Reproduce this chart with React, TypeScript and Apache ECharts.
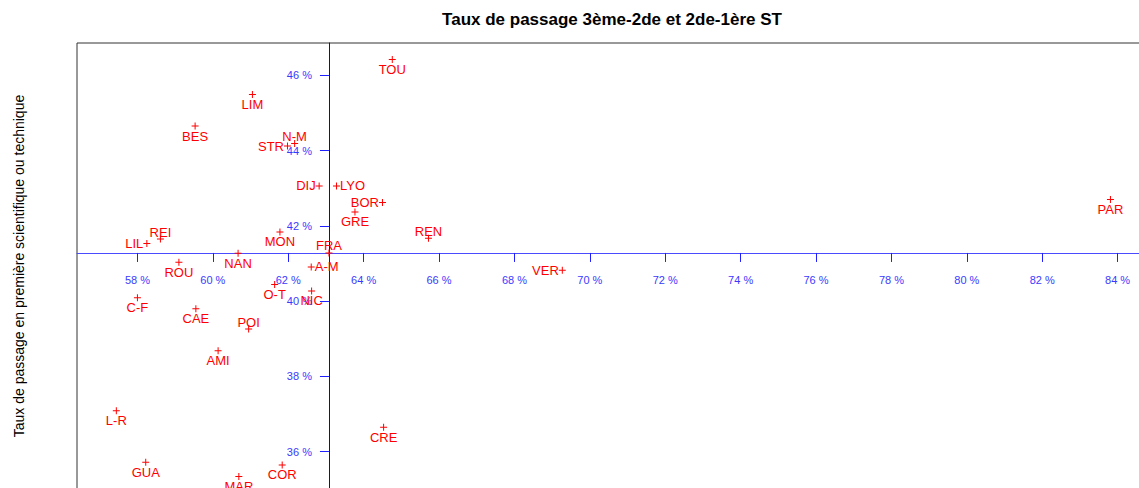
import { useEffect, useRef } from "react";
import * as echarts from "echarts";

const ACADEMIES = ["LIM", "BES", "STR", "N-M", "DIJ", "LYO", "BOR", "GRE", "TOU", "REI", "LIL", "MON", "FRA", "NAN", "ROU", "A-M", "O-T", "NIC", "C-F", "CAE", "POI", "AMI", "L-R", "GUA", "MAR", "COR", "CRE", "REN", "VER", "PAR"];
// Taux de passage 3ème-2de (%)
const TAUX_3EME_2DE = [61.05, 59.53, 61.98, 62.17, 62.82, 63.28, 64.5, 63.77, 64.76, 58.61, 58.25, 61.78, 63.08, 60.67, 59.1, 62.61, 61.64, 62.62, 58.0, 59.55, 60.95, 60.14, 57.44, 58.22, 60.69, 61.84, 64.53, 65.72, 69.27, 83.81];
// Taux de passage 2de-1ère S ou T (%)
const TAUX_2DE_1ERE = [45.49, 44.65, 44.12, 44.19, 43.06, 43.06, 42.62, 42.37, 46.42, 41.65, 41.53, 41.84, 41.28, 41.27, 41.03, 40.91, 40.44, 40.27, 40.09, 39.8, 39.26, 38.68, 37.09, 35.72, 35.34, 35.65, 36.65, 41.67, 40.82, 42.7];
const X_TICKS = [58, 60, 62, 64, 66, 68, 70, 72, 74, 76, 78, 80, 82, 84];
const Y_TICKS = [36, 38, 40, 42, 44, 46];
const X_RANGE = [56.397, 84.7];
const Y_RANGE = [34.904, 46.857];
const REFERENCE = "FRA";

const LABEL_SIDE: Record<string, string> = {
  STR: "left", "N-M": "top", DIJ: "left", LYO: "right", BOR: "left",
  REI: "top", LIL: "left", FRA: "top", "A-M": "right", POI: "top",
  REN: "top", VER: "left",
};

const FONT = "'Liberation Sans', Arial, Helvetica, sans-serif";

export default function App() {
  const ref = useRef<HTMLDivElement>(null);
  useEffect(() => {
    if (!ref.current) return;
    const chart = echarts.init(ref.current, null, { renderer: "svg" });
    const refIdx = ACADEMIES.indexOf(REFERENCE);
    const crossX = TAUX_3EME_2DE[refIdx];
    const crossY = TAUX_2DE_1ERE[refIdx];

    const data = ACADEMIES.map((name, i) => {
      const side = LABEL_SIDE[name] || "bottom";
      return {
        name,
        value: [TAUX_3EME_2DE[i], TAUX_2DE_1ERE[i]],
        label: { position: side, distance: side === "top" ? -3 : side === "bottom" ? 0 : 0 },
      };
    });

    const option: any = {
      animation: false,
      graphic: [
        {
          type: "text",
          x: 612,
          y: 19,
          style: {
            text: "Taux de passage 3ème-2de et 2de-1ère ST",
            font: `bold 17px ${FONT}`,
            fill: "#000",
            textAlign: "center",
            textVerticalAlign: "middle",
          },
        },
        {
          type: "text",
          x: 19,
          y: 266,
          rotation: Math.PI / 2,
          style: {
            text: "Taux de passage en première scientifique ou technique",
            font: `14px ${FONT}`,
            fill: "#000",
            textAlign: "center",
            textVerticalAlign: "middle",
          },
        },
      ],
      grid: {
        left: 77, top: 43, right: -5, bottom: -5,
        containLabel: false,
        outerBoundsMode: "none",
        show: true, borderColor: "#333", borderWidth: 1, backgroundColor: "transparent",
      },
      xAxis: {
        type: "value",
        min: X_RANGE[0],
        max: X_RANGE[1],
        position: "bottom",
        offset: 0,
        splitLine: { show: false },
        axisLine: { show: true, lineStyle: { color: "#4a4aff", width: 1 } },
        axisTick: { show: true, length: 9, customValues: X_TICKS, lineStyle: { color: "#2020ff" } },
        axisLabel: {
          customValues: X_TICKS,
          formatter: (v: number) => `${v} %`,
          color: "#3a3aff",
          fontSize: 11,
          fontFamily: FONT,
          margin: 22,
        },
      },
      yAxis: {
        type: "value",
        min: Y_RANGE[0],
        max: Y_RANGE[1],
        position: "left",
        offset: 0,
        splitLine: { show: false },
        axisLine: { show: true, lineStyle: { color: "#0000ff", width: 1 } },
        axisTick: { show: true, length: 9, customValues: Y_TICKS, lineStyle: { color: "#2020ff" } },
        axisLabel: {
          customValues: Y_TICKS,
          formatter: (v: number) => `${v} %`,
          color: "#3a3aff",
          fontSize: 11,
          fontFamily: FONT,
          margin: 17,
          padding: [5, 0, 0, 0],
        },
      },
      series: [
        {
          type: "scatter",
          data,
          symbol: "path://M3,0h1v3h3v1h-3v3h-1v-3h-3v-1h3z",
          symbolSize: 7,
          itemStyle: { color: "#ff0000", opacity: 1, borderWidth: 0 },
          label: {
            show: true,
            formatter: "{b}",
            color: "#ff0000",
            fontSize: 13,
            fontFamily: FONT,
          },
          labelLayout: { hideOverlap: false },
          emphasis: { disabled: true },
          z: 5,
        },
      ],
    };
    chart.setOption(option);
    const corner = chart.convertToPixel({ gridIndex: 0 }, [X_RANGE[0], Y_RANGE[0]]) as number[];
    const cross = chart.convertToPixel({ gridIndex: 0 }, [crossX, crossY]) as number[];
    chart.setOption({
      xAxis: { offset: cross[1] - corner[1] },
      yAxis: { offset: corner[0] - cross[0] },
    });
    return () => chart.dispose();
  }, []);
  return (
    <div
      ref={ref}
      style={{ position: "fixed", left: 0, top: 0, width: 1139, height: 488, background: "#fff" }}
    />
  );
}
